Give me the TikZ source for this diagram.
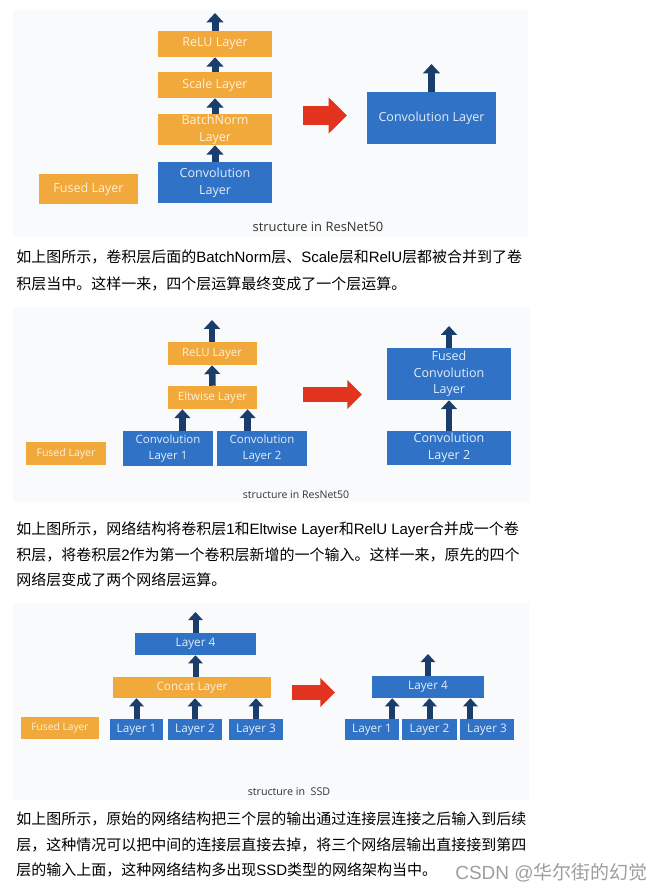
\documentclass[tikz,border=0pt]{standalone}
\usepackage{fontspec}
\usepackage{tikz}
\usetikzlibrary{arrows.meta}
\setmainfont{Liberation Sans}
\newfontfamily\cjk{Noto Sans CJK SC}
\newfontfamily\lat{Liberation Sans}
\newfontfamily\diag{Open Sans}
\newcommand\en[1]{{\lat #1}}
\newcommand\pxu{0.75pt}

\definecolor{panelbg}{HTML}{F9FAFB}
\definecolor{layerorange}{HTML}{F2A93B}
\definecolor{layerblue}{HTML}{2F72C6}
\definecolor{arrownavy}{HTML}{1B3D6B}
\definecolor{arrowred}{HTML}{E2331F}
\definecolor{txtonblue}{HTML}{E4EDF8}
\definecolor{txtonorange}{HTML}{FCF0DB}
\definecolor{captiongray}{HTML}{333333}
\definecolor{marktxt}{HTML}{9E9E9E}

\tikzset{
    layer/.style={rectangle, inner sep=0pt, align=center},
    orangebox/.style={layer, fill=layerorange, text=txtonorange},
    bluebox/.style={layer, fill=layerblue, text=txtonblue},
    boxsize/.style 2 args={minimum width=#1*\pxu, minimum height=#2*\pxu},
    uparrow/.style={draw=arrownavy, line width=#1, -{Triangle[width=0pt 2.4, length=0pt 1.35]}},
    uparrow/.default=5pt,
    bigarrow/.style={draw=arrowred, line width=#1, -{Triangle[width=0pt 1.85, length=0pt 0.97]}},
    caption/.style={inner sep=0pt, text=captiongray},
    para/.style={inner sep=0pt, align=left, anchor=west, text=black}
}

\begin{document}
\begin{tikzpicture}[x=0.75pt, y=-0.75pt]
    \useasboundingbox (0,0) rectangle (656,894);
    \fill[white] (0,0) rectangle (656,894);

    % first picture: BatchNorm, Scale, ReLU into the convolution
    \fill[panelbg] (13,10) rectangle (528,237);
    \begin{scope}[font=\diag\fontsize{9.4pt}{12.4pt}\selectfont]
        \node[orangebox, boxsize={114}{26}] (relu1) at (215,44) {ReLU Layer};
        \node[orangebox, boxsize={114}{26}] (scale1) at (215,85) {Scale Layer};
        \node[orangebox, boxsize={114}{31}] (bn1) at (215,129.5) {BatchNorm\\Layer};
        \node[bluebox, boxsize={114}{41}] (conv1) at (215,182.5) {Convolution\\Layer};
        \node[orangebox, boxsize={99}{30}] (fused1) at (88.5,189) {Fused Layer};
        \node[bluebox, boxsize={129}{52}] (convR1) at (431.5,118) {Convolution Layer};
    \end{scope}
    \coordinate (out1) at (215,13);
    \coordinate (outR1) at (431.5,64);
    \coordinate (r1s) at (303,115.5);
    \coordinate (r1e) at (347,115.5);
    \draw[uparrow=5.25pt] (conv1.north) -- (bn1.south);
    \draw[uparrow=5.25pt] (bn1.north) -- (scale1.south);
    \draw[uparrow=5.25pt] (scale1.north) -- (relu1.south);
    \draw[uparrow=5.25pt] (relu1.north) -- (out1);
    \draw[uparrow=5.25pt] (convR1.north) -- (outR1);
    \draw[bigarrow=14.25pt] (r1s) -- (r1e);
    \node[caption, font=\diag\fontsize{9.7pt}{12pt}\selectfont] (cap1) at (318,227) {structure in ResNet50};

    \node[para, font=\cjk\fontsize{11.25pt}{20.25pt}\selectfont] (para1) at (16,270.5)
        {如上图所示，卷积层后面的\en{BatchNorm}层、\en{Scale}层和\en{RelU}层都被合并到了卷\\积层当中。这样一来，四个层运算最终变成了一个层运算。};

    % second picture: Eltwise and ReLU into the convolution
    \fill[panelbg] (13,307) rectangle (530,502);
    \begin{scope}[font=\diag\fontsize{8.6pt}{11.3pt}\selectfont]
        \node[orangebox, boxsize={89}{23}] (relu2) at (212,353.5) {ReLU Layer};
        \node[orangebox, boxsize={89}{23}] (elt2) at (212.5,397.5) {Eltwise Layer};
        \node[bluebox, boxsize={90}{35}] (convA2) at (168,448.5) {Convolution\\Layer 1};
        \node[bluebox, boxsize={90}{35}] (convB2) at (262,448.5) {Convolution\\Layer 2};
        \node[orangebox, boxsize={80}{23}, font=\diag\fontsize{7.9pt}{10pt}\selectfont] (fused2) at (66,453.5) {Fused Layer};
    \end{scope}
    \begin{scope}[font=\diag\fontsize{9.4pt}{12.5pt}\selectfont]
        \node[bluebox, boxsize={124}{52}] (fconv2) at (449,374) {Fused\\Convolution\\Layer};
        \node[bluebox, boxsize={124}{34}] (convC2) at (449,448) {Convolution\\Layer 2};
    \end{scope}
    \coordinate (out2) at (212,320);
    \coordinate (outR2) at (449,326);
    \coordinate (r2s) at (303,394.5);
    \coordinate (r2e) at (362,394.5);
    \draw[uparrow=4.9pt] (convA2.51) -- (convA2.51 |- elt2.south);
    \draw[uparrow=4.9pt] (convB2.129) -- (convB2.129 |- elt2.south);
    \draw[uparrow=4.9pt] (elt2.north) -- (relu2.south);
    \draw[uparrow=4.9pt] (relu2.north) -- (out2);
    \draw[uparrow=4.9pt] (convC2.north) -- (fconv2.south);
    \draw[uparrow=4.9pt] (fconv2.north) -- (outR2);
    \draw[bigarrow=11.25pt] (r2s) -- (r2e);
    \node[caption, font=\diag\fontsize{7.9pt}{10pt}\selectfont] (cap2) at (296,495) {structure in ResNet50};

    \node[para, font=\cjk\fontsize{11.25pt}{19.1pt}\selectfont] (para2) at (16,554.5)
        {如上图所示，网络结构将卷积层\en{1}和\en{Eltwise Layer}和\en{RelU Layer}合并成一个卷\\积层，将卷积层\en{2}作为第一个卷积层新增的一个输入。这样一来，原先的四个\\网络层变成了两个网络层运算。};

    % third picture: the concat layer is dropped
    \fill[panelbg] (13,603) rectangle (529,800);
    \begin{scope}[font=\diag\fontsize{8.8pt}{11pt}\selectfont]
        \node[bluebox, boxsize={121}{22}] (l4) at (195.5,644) {Layer 4};
        \node[orangebox, boxsize={158}{21}] (concat) at (192,687.5) {Concat Layer};
        \node[bluebox, boxsize={53}{21}] (la) at (136.5,729.5) {Layer 1};
        \node[bluebox, boxsize={54}{21}] (lb) at (195,729.5) {Layer 2};
        \node[bluebox, boxsize={54}{21}] (lc) at (256,729.5) {Layer 3};
        \node[orangebox, boxsize={78}{22}, font=\diag\fontsize{7.7pt}{10pt}\selectfont] (fused3) at (60,728) {Fused Layer};
        \node[bluebox, boxsize={112}{22}] (l4R) at (428,687) {Layer 4};
        \node[bluebox, boxsize={54}{21}] (laR) at (372,729.5) {Layer 1};
        \node[bluebox, boxsize={55}{21}] (lbR) at (429.5,729.5) {Layer 2};
        \node[bluebox, boxsize={54}{21}] (lcR) at (487,729.5) {Layer 3};
    \end{scope}
    \coordinate (out3) at (195.5,612);
    \coordinate (outR3) at (428,654);
    \coordinate (r3s) at (292,692.5);
    \coordinate (r3e) at (335,692.5);
    \draw[uparrow=4.5pt] (la.north) -- (la.north |- concat.south);
    \draw[uparrow=4.5pt] (lb.north) -- (lb.north |- concat.south);
    \draw[uparrow=4.5pt] (lc.north) -- (lc.north |- concat.south);
    \draw[uparrow=4.5pt] (concat.north -| l4.south) -- (l4.south);
    \draw[uparrow=4.5pt] (l4.north) -- (out3);
    \draw[uparrow=4.5pt] (laR.28) -- (laR.28 |- l4R.south);
    \draw[uparrow=4.5pt] (lbR.north) -- (lbR.north |- l4R.south);
    \draw[uparrow=4.5pt] (lcR.147) -- (lcR.147 |- l4R.south);
    \draw[uparrow=4.5pt] (l4R.north) -- (outR3);
    \draw[bigarrow=11.25pt] (r3s) -- (r3e);
    \node[caption, font=\diag\fontsize{8pt}{10pt}\selectfont] (cap3) at (289,792) {structure in\ \ SSD};

    \node[para, font=\cjk\fontsize{11.25pt}{19.1pt}\selectfont] (para3) at (16,844.5)
        {如上图所示，原始的网络结构把三个层的输出通过连接层连接之后输入到后续\\层，这种情况可以把中间的连接层直接去掉，将三个网络层输出直接接到第四\\层的输入上面，这种网络结构多出现\en{SSD}类型的网络架构当中。};
    \node[inner sep=0pt, text=marktxt, font=\cjk\fontsize{14.25pt}{16pt}\selectfont] (csdn) at (551.5,873) {\en{CSDN @}华尔街的幻觉};
\end{tikzpicture}
\end{document}
